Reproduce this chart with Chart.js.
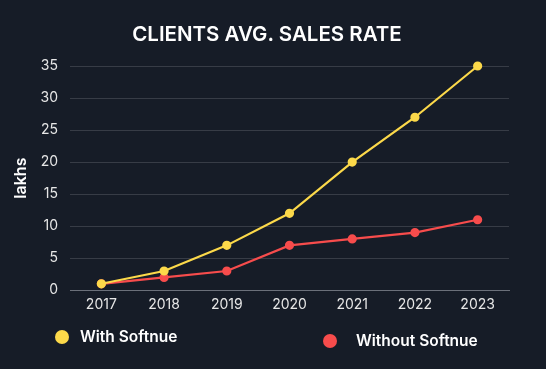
<!DOCTYPE html>
<html>
<head>
<meta charset="utf-8">
<script src="https://cdn.jsdelivr.net/npm/chart.js@4"></script>
<style>
  html, body { margin: 0; padding: 0; background: #161c27; }
  #wrap { position: relative; width: 546px; height: 369px; }
  #title { position: absolute; left: 0; width: 534px; top: 21px; text-align: center; color: #fff;
           font: 600 20.5px Inter, "DejaVu Sans", sans-serif; }
  .legend { position: absolute; display: flex; align-items: center; color: #fff;
            font: 600 15.5px Inter, "DejaVu Sans", sans-serif; }
  .dot { width: 14px; height: 14px; border-radius: 50%; }
</style>
</head>
<body>
<div id="wrap">
  <canvas id="chart" width="546" height="369"></canvas>
  <div id="title">CLIENTS AVG. SALES RATE</div>
  <div id="legend"></div>
</div>
<script>
const years = ['2017', '2018', '2019', '2020', '2021', '2022', '2023'];
const withSoftnue = [1, 3, 7, 12, 20, 27, 35];
const withoutSoftnue = [1, 2, 3, 7, 8, 9, 11];
const seriesNames = ['With Softnue', 'Without Softnue'];

const yellow = '#fcd94a';
const red = '#f74c4c';
const font = 'Inter, "DejaVu Sans", sans-serif';

const chart = new Chart(document.getElementById('chart'), {
    type: 'line',
    data: {
        labels: years,
        datasets: [
            {
                label: seriesNames[0],
                data: withSoftnue,
                borderColor: yellow,
                backgroundColor: yellow,
                borderWidth: 2.2,
                pointRadius: 3.5,
                tension: 0,
                clip: false
            },
            {
                label: seriesNames[1],
                data: withoutSoftnue,
                borderColor: red,
                backgroundColor: red,
                borderWidth: 2.2,
                pointRadius: 3.5,
                tension: 0,
                clip: false
            }
        ]
    },
    options: {
        responsive: false,
        animation: false,
        layout: { padding: { left: 8, right: 37, top: 66, bottom: 58 } },
        plugins: {
            legend: { display: false },
            tooltip: { enabled: false }
        },
        scales: {
            x: {
                offset: true,
                grid: { display: false },
                border: { color: '#6b707a' },
                ticks: { color: '#e6e6e6', font: { family: font, size: 14 }, padding: -2 }
            },
            y: {
                min: 0,
                max: 35,
                afterFit: (scale) => { scale.width = 62; },
                ticks: { stepSize: 5, color: '#e6e6e6', font: { family: font, size: 14 }, padding: 12 },
                grid: { color: '#373c46', drawTicks: false },
                border: { display: false },
                title: {
                    display: true,
                    text: 'lakhs',
                    color: '#ffffff',
                    font: { family: font, size: 16, weight: '600' },
                    padding: 4
                }
            }
        }
    }
});

// legend drawn as html, the two items sit far apart in the reference
const legendPos = [[55, 327, 11], [323, 331, 19]];
const legendBox = document.getElementById('legend');
chart.data.datasets.forEach((ds, i) => {
    const item = document.createElement('div');
    item.className = 'legend';
    item.style.left = legendPos[i][0] + 'px';
    item.style.top = legendPos[i][1] + 'px';
    item.innerHTML = `<span class="dot" style="background:${ds.borderColor};margin-right:${legendPos[i][2]}px"></span>${ds.label}`;
    legendBox.append(item);
});
</script>
</body>
</html>
